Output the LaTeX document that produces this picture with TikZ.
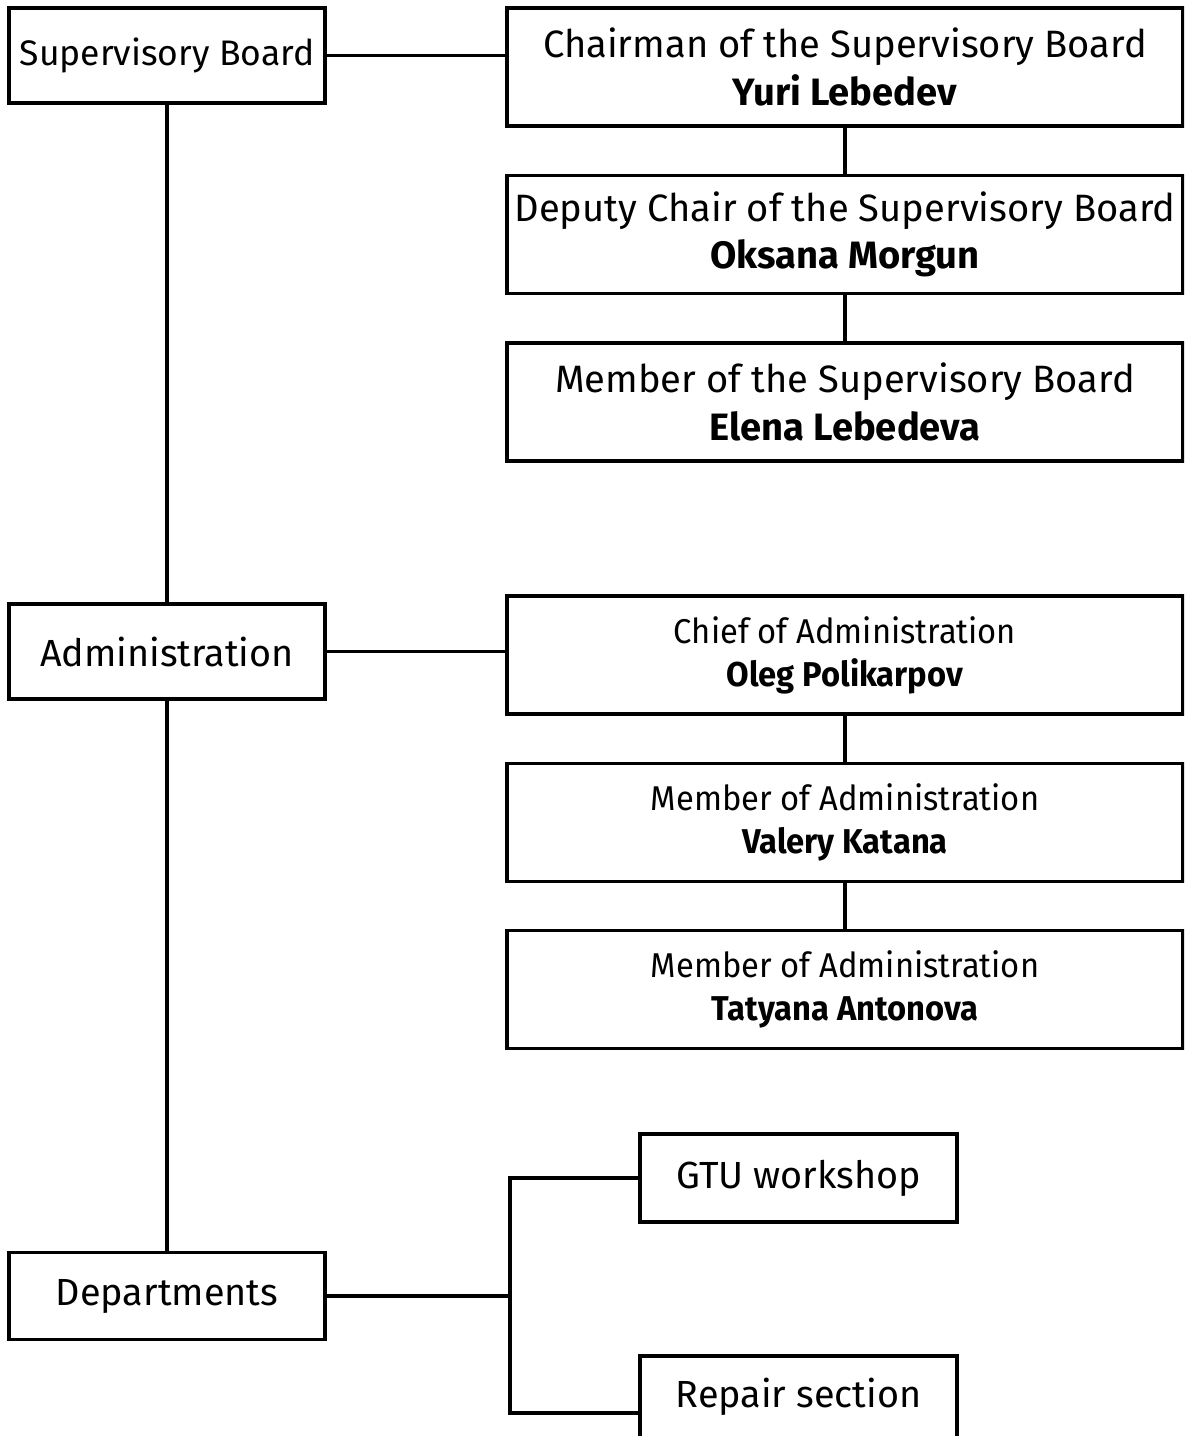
\documentclass[tikz,border=0pt]{standalone}
\usepackage{fontspec}
\setmainfont{Fira Sans}
\newfontfamily\narrowfont{Fira Sans}[FakeStretch=0.95]
\usetikzlibrary{positioning}

\tikzset{
  box/.style={draw, line width=2pt, rectangle, align=center, inner sep=0pt},
  leftbox/.style={box, minimum width=316*0.02cm, minimum height=95*0.02cm, font=\fontsize{21.5}{24}\selectfont},
  rightbox/.style={box, minimum width=676*0.02cm, minimum height=118*0.02cm, font=\fontsize{21.7}{27}\selectfont},
  adminbox/.style={box, minimum width=676*0.02cm, minimum height=118*0.02cm, font=\narrowfont\fontsize{19.6}{24.5}\selectfont},
  unitbox/.style={box, minimum width=317*0.02cm, minimum height=88*0.02cm, font=\fontsize{21.5}{24}\selectfont},
  link/.style={line width=2pt}
}

\begin{document}
\begin{tikzpicture}[x=0.02cm,y=-0.02cm]
\useasboundingbox (0,0) rectangle (1184,1436);
\clip (0,0) rectangle (1184,1436);

\node[leftbox, font=\fontsize{20.2}{24}\selectfont] (board) at (167,55.5) {Supervisory Board};
\node[leftbox] (admin) at (167,651.5) {Administration};
\node[leftbox, minimum height=87*0.02cm] (dept) at (167,1296) {Departments};

\node[rightbox] (chair) at (845,67) {Chairman of the Supervisory Board\\\textbf{Yuri Lebedev}};
\node[rightbox] (deputy) at (845,234.5) {Deputy Chair of the Supervisory Board\\\textbf{Oksana Morgun}};
\node[rightbox] (member) at (845,402) {Member of the Supervisory Board\\\textbf{Elena Lebedeva}};

\node[adminbox] (chief) at (845,655) {Chief of Administration\\\textbf{Oleg Polikarpov}};
\node[adminbox] (katana) at (845,822.5) {Member of Administration\\\textbf{Valery Katana}};
\node[adminbox] (antonova) at (845,989.5) {Member of Administration\\\textbf{Tatyana Antonova}};

\node[unitbox] (gtu) at (798.5,1178) {GTU workshop};
\node[unitbox, minimum height=130*0.02cm, text depth=56*0.02cm] (repair) at (798.5,1421) {Repair section};

\draw[link] (board.east) -- (board.east -| chair.west);
\draw[link] (board) -- (admin);
\draw[link] (admin) -- (dept);
\draw[link] (admin.east) -- (admin.east -| chief.west);

\draw[link] (chair) -- (deputy);
\draw[link] (deputy) -- (member);
\draw[link] (chief) -- (katana);
\draw[link] (katana) -- (antonova);

\coordinate (fork) at (dept.east -| 510,0);
\coordinate (repairin) at (640,1413);
\draw[link] (dept.east) -- (fork);
\draw[link] (fork) |- (gtu.west);
\draw[link] (fork) |- (repairin);

\end{tikzpicture}
\end{document}
